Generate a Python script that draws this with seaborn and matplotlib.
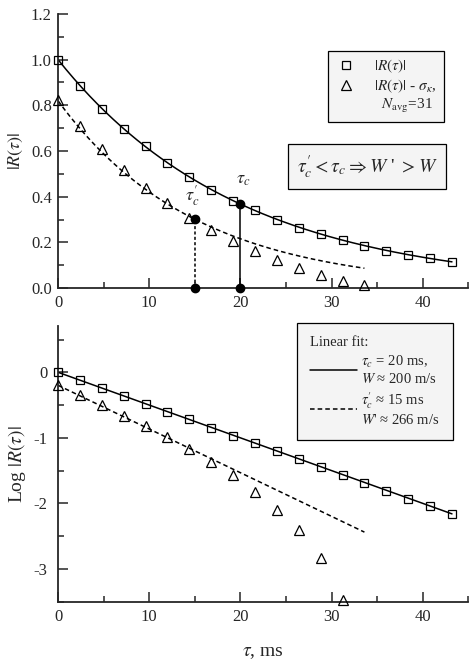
import numpy as np
import matplotlib
matplotlib.use("Agg")
import matplotlib.pyplot as plt
from matplotlib.ticker import MultipleLocator, FormatStrFormatter
from matplotlib.lines import Line2D
import seaborn as sns

# lag time, ms
tau = [0.0, 2.4, 4.8, 7.2, 9.6, 12.0, 14.4, 16.8, 19.2, 21.6,
       24.0, 26.4, 28.8, 31.2, 33.6, 36.0, 38.4, 40.8, 43.2]
# |R(tau)|
r_abs = [1.000, 0.885, 0.786, 0.697, 0.620, 0.547, 0.488, 0.430, 0.381, 0.340,
         0.300, 0.265, 0.236, 0.210, 0.185, 0.163, 0.145, 0.130, 0.115]
# |R(tau)| - sigma_K (only first 15 lags)
tau_sig = tau[:15]
r_sig = [0.824, 0.709, 0.609, 0.516, 0.439, 0.373, 0.309, 0.254, 0.208, 0.162,
         0.123, 0.090, 0.059, 0.031, 0.012]

# fit parameters (from the figure legend)
TAU_C = 20.0        # ms
TAU_C_PRIME = 15.0  # ms
R0_PRIME = 0.82
FIT_END = 33.6
LOG_YMIN = -3.5

sns.set_style("ticks")
plt.rcParams["font.family"] = ["Liberation Serif", "DejaVu Serif"]
plt.rcParams["mathtext.fontset"] = "stix"
plt.rcParams["axes.unicode_minus"] = False
plt.rcParams["xtick.direction"] = "in"
plt.rcParams["ytick.direction"] = "in"

t_fit = np.linspace(0, tau[-1], 200)
t_fit2 = np.linspace(0, FIT_END, 200)
fit_solid = np.exp(-t_fit / TAU_C)
fit_dash = R0_PRIME * np.exp(-t_fit2 / TAU_C_PRIME)

fig = plt.figure(figsize=(4.69, 6.61), dpi=100)
ax1 = fig.add_axes([0.1237, 0.564, 0.875, 0.415])
ax2 = fig.add_axes([0.1237, 0.0897, 0.875, 0.4165])

sq_kw = dict(marker="s", linestyle="", mfc="none", mec="black", mew=0.9, ms=5.8,
             color="black", clip_on=False, zorder=4)
tri_kw = dict(marker="^", linestyle="", mfc="none", mec="black", mew=0.9, ms=7.5,
              color="black", clip_on=False, zorder=4)


def style_axes(ax, ypad):
    sns.despine(ax=ax)
    for side in ["left", "bottom"]:
        ax.spines[side].set_linewidth(1.3)
    ax.set_xlim(0, 45)
    ax.xaxis.set_major_locator(MultipleLocator(10))
    ax.xaxis.set_minor_locator(MultipleLocator(5))
    ax.tick_params(which="major", length=7, width=1.1, labelsize=12)
    ax.tick_params(which="minor", length=4, width=1.1)
    ax.tick_params(axis="y", pad=ypad)
    ax.tick_params(axis="x", pad=5)


# ---- top panel: linear scale ----
sns.lineplot(x=t_fit, y=fit_solid, ax=ax1, color="black", lw=1.1)
sns.lineplot(x=t_fit2, y=fit_dash, ax=ax1, color="black", lw=1.1, linestyle=(0, (3, 2)))
sns.lineplot(x=tau, y=r_abs, ax=ax1, **sq_kw)
sq_handle = ax1.lines[-1]
sns.lineplot(x=tau_sig, y=r_sig, ax=ax1, **tri_kw)
tri_handle = ax1.lines[-1]

# correlation time markers
y_c = np.exp(-1.0)
y_cp = R0_PRIME * np.exp(-1.0)
ax1.plot([TAU_C, TAU_C], [0, y_c], color="black", lw=1.1, marker="o", ms=6, clip_on=False, zorder=5)
ax1.plot([TAU_C_PRIME, TAU_C_PRIME], [0, y_cp], color="black", lw=1.1, linestyle=(0, (2, 1.5)),
         marker="o", ms=6, clip_on=False, zorder=5)
ax1.text(TAU_C + 0.3, y_c + 0.07, r"$\tau_c$", fontsize=13, ha="center", va="bottom")
ax1.text(TAU_C_PRIME - 0.3, y_cp + 0.05, r"$\tau^{\prime}_{c}$", fontsize=13, ha="center", va="bottom")

ax1.set_ylim(0, 1.2)
ax1.yaxis.set_major_locator(MultipleLocator(0.2))
ax1.yaxis.set_minor_locator(MultipleLocator(0.1))
ax1.yaxis.set_major_formatter(FormatStrFormatter("%.1f"))
style_axes(ax1, ypad=4.5)
ax1.set_ylabel(r"$|R(\tau)|$", fontsize=13, labelpad=4)
ax1.set_xlabel("")

blank = Line2D([], [], linestyle="", marker="")
leg1 = ax1.legend([sq_handle, tri_handle, blank],
                  [r"$|R(\tau)|$", r"$|R(\tau)|$ - $\sigma_{\kappa}$,", r"  $N_{\rm avg}$=31"],
                  loc="upper right", bbox_to_anchor=(0.94, 0.865), borderaxespad=0,
                  frameon=True, fancybox=False, edgecolor="black", facecolor="#f4f4f4",
                  framealpha=1, fontsize=11, handlelength=1.5, handletextpad=1.1,
                  labelspacing=0.15, borderpad=0.45)
leg1.get_frame().set_linewidth(0.9)

ax1.text(0.753, 0.442, r"$\tau^{\prime}_{c} < \tau_{c} \Rightarrow W$ ' $> W$", transform=ax1.transAxes,
         fontsize=14, ha="center", va="center",
         bbox=dict(boxstyle="square,pad=0.45", fc="#f4f4f4", ec="black", lw=0.9))

# ---- bottom panel: log scale ----
log_abs = np.log(r_abs)
log_sig = np.log(r_sig)
keep = log_sig >= LOG_YMIN - 0.05
sns.lineplot(x=t_fit, y=np.log(fit_solid), ax=ax2, color="black", lw=1.1)
solid_handle = ax2.lines[-1]
sns.lineplot(x=t_fit2, y=np.log(fit_dash), ax=ax2, color="black", lw=1.1, linestyle=(0, (3, 2)))
dash_handle = ax2.lines[-1]
sns.lineplot(x=tau, y=log_abs, ax=ax2, **sq_kw)
sns.lineplot(x=np.array(tau_sig)[keep], y=log_sig[keep], ax=ax2, **tri_kw)

ax2.set_ylim(LOG_YMIN, 0.7)
ax2.yaxis.set_major_locator(MultipleLocator(1))
ax2.yaxis.set_minor_locator(MultipleLocator(0.5))
style_axes(ax2, ypad=7.5)
ax2.set_ylabel(r"Log $|R(\tau)|$", fontsize=14, labelpad=4)
ax2.set_xlabel(r"$\tau$, ms", fontsize=14, labelpad=14)

leg2 = ax2.legend([solid_handle, dash_handle],
                  [r"$\tau_c$ = 20 ms," + "\n" + r"$W$ ≈ 200 m/s",
                   r"$\tau^{\prime}_{c}$ ≈ 15 ms" + "\n" + r"$W$' ≈ 266 m/s"],
                  title="Linear fit:", alignment="left",
                  loc="upper right", bbox_to_anchor=(0.962, 1.012), borderaxespad=0,
                  frameon=True, fancybox=False, edgecolor="black", facecolor="#f4f4f4",
                  framealpha=1, fontsize=10.5, title_fontsize=10.5, handlelength=3.2,
                  handletextpad=0.3, labelspacing=0.3, borderpad=0.9)
leg2.get_frame().set_linewidth(0.9)

fig.savefig("out.png", dpi=100)
